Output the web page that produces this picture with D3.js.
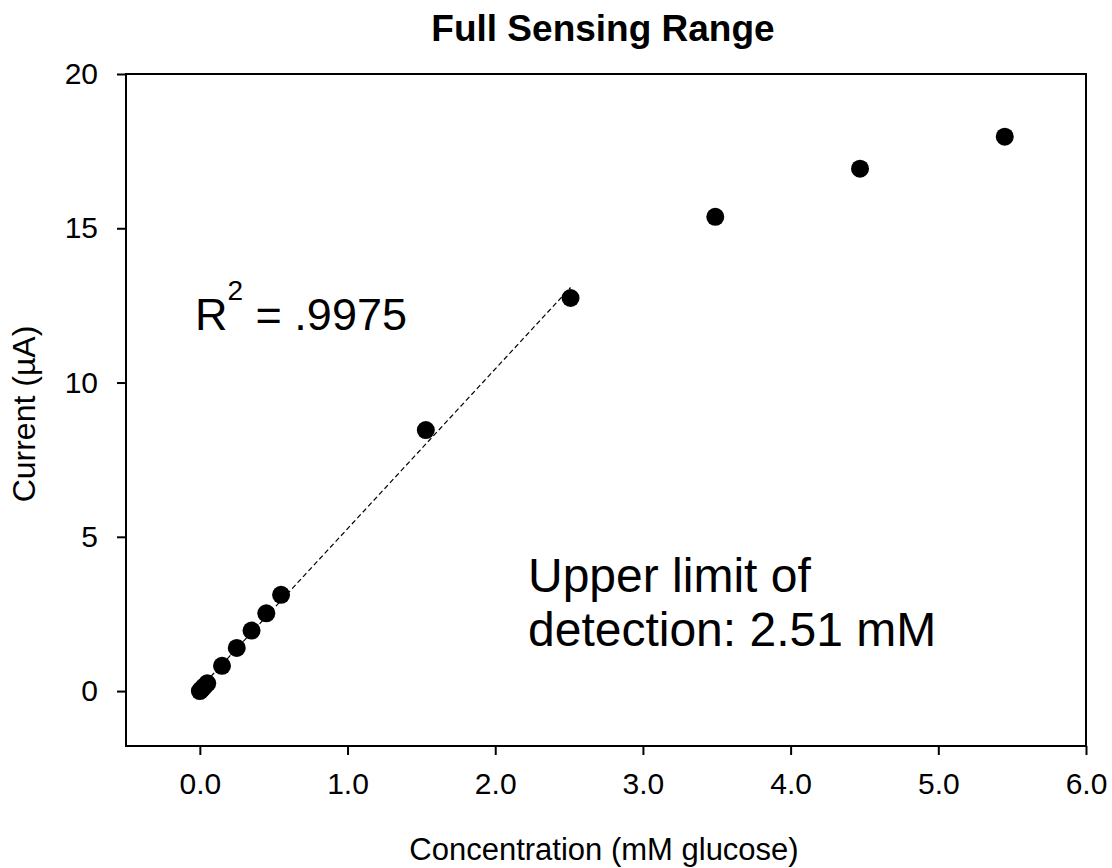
<!DOCTYPE html>
<html><head><meta charset="utf-8">
<script src="https://cdn.jsdelivr.net/npm/d3@7"></script>
<style>body{margin:0;background:#fff}svg{display:block}text{font-family:"Liberation Sans",Arial,sans-serif;fill:#000}</style>
</head><body>
<script>
const concentration = [0, 0.01, 0.02, 0.03, 0.05, 0.15, 0.25, 0.35, 0.45, 0.55, 1.53, 2.51, 3.49, 4.47, 5.45];
const current = [0, 0.05, 0.1, 0.15, 0.25, 0.82, 1.40, 1.96, 2.52, 3.12, 8.46, 12.74, 15.37, 16.93, 17.97];
const xTicks = [0, 1, 2, 3, 4, 5, 6];
const yTicks = [0, 5, 10, 15, 20];
const fitLimit = 2.51;

const W = 1112, H = 868;
const m = {l:126, r:1086, t:74, b:746};
const svg = d3.select("body").append("svg").attr("width", W).attr("height", H);
const x = d3.scaleLinear().domain([-0.5, 6]).range([m.l, m.r]);
const y = d3.scaleLinear().domain([-1.78, 20]).range([m.b, m.t]);

// frame
svg.append("rect").attr("x", m.l).attr("y", m.t).attr("width", m.r - m.l).attr("height", m.b - m.t)
  .attr("fill", "none").attr("stroke", "#000").attr("stroke-width", 2);

const xa = svg.append("g").attr("transform", `translate(0,${m.b})`)
  .call(d3.axisBottom(x).tickValues(xTicks).tickFormat(d3.format(".1f")).tickSize(9).tickPadding(18));
const ya = svg.append("g").attr("transform", `translate(${m.l},0)`)
  .call(d3.axisLeft(y).tickValues(yTicks).tickSize(9).tickPadding(19));
[xa, ya].forEach(a => {
  a.select(".domain").remove();
  a.selectAll("line").attr("stroke", "#000").attr("stroke-width", 2);
  a.selectAll("text").style("font-size", "30px").attr("font-family", "Liberation Sans, Arial, sans-serif");
});

// regression fit over linear range
const pts = concentration.map((c, i) => [c, current[i]]).filter(p => p[0] <= fitLimit);
const mx = d3.mean(pts, p => p[0]), my = d3.mean(pts, p => p[1]);
const slope = d3.sum(pts, p => (p[0]-mx)*(p[1]-my)) / d3.sum(pts, p => (p[0]-mx)**2);
const icpt = my - slope*mx;
const x0 = d3.min(pts, p => p[0]), x1 = d3.max(pts, p => p[0]);
svg.append("line").attr("x1", x(x0)).attr("y1", y(icpt + slope*x0)).attr("x2", x(x1)).attr("y2", y(icpt + slope*x1))
  .attr("stroke", "#000").attr("stroke-width", 1.2).attr("stroke-dasharray", "5,3");

svg.append("g").selectAll("circle").data(concentration).join("circle")
  .attr("cx", d => x(d)).attr("cy", (d, i) => y(current[i])).attr("r", 9).attr("fill", "#000");

svg.append("text").attr("x", 603).attr("y", 41).attr("text-anchor", "middle")
  .style("font-size", "37px").style("font-weight", "bold").text("Full Sensing Range");
svg.append("text").attr("x", 604).attr("y", 860).attr("text-anchor", "middle")
  .style("font-size", "31px").text("Concentration (mM glucose)");
svg.append("text").attr("transform", "translate(35,414) rotate(-90)").attr("text-anchor", "middle")
  .style("font-size", "32px").text("Current (µA)");

const r2 = svg.append("text").attr("x", 195).attr("y", 330).style("font-size", "45px");
r2.append("tspan").text("R");
r2.append("tspan").attr("dy", -30).style("font-size", "28px").text("2");
r2.append("tspan").attr("dy", 30).text(" = .9975");

svg.append("text").attr("x", 528).attr("y", 592).style("font-size", "48px").text("Upper limit of");
svg.append("text").attr("x", 528).attr("y", 646).style("font-size", "48px").text("detection: 2.51 mM");
</script>
</body></html>
